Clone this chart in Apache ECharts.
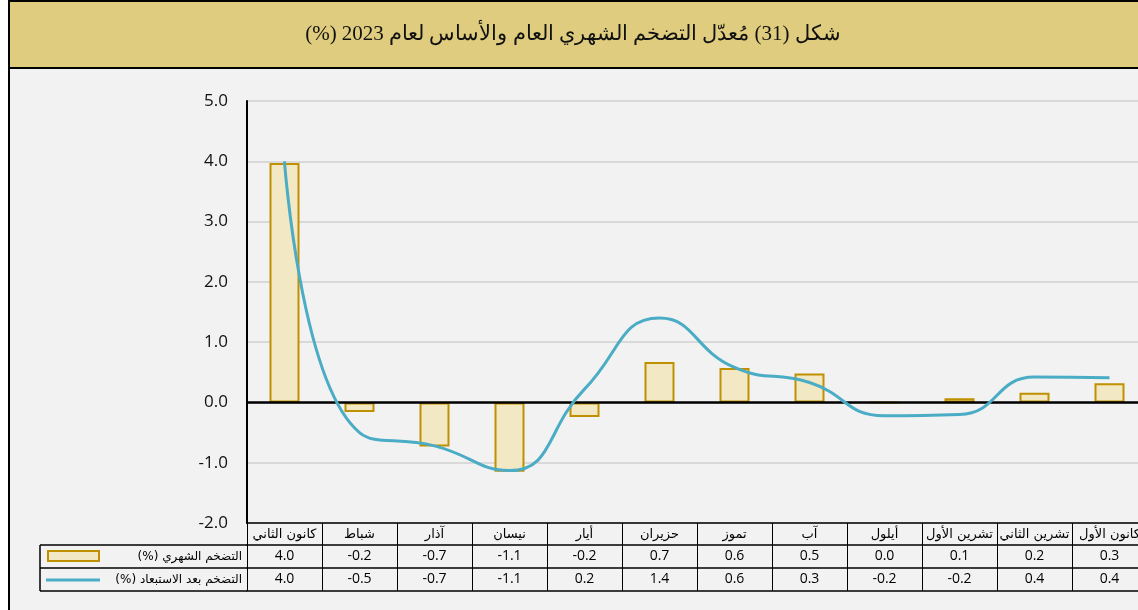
<!DOCTYPE html>
<html>
<head>
<meta charset="utf-8">
<script src="https://cdn.jsdelivr.net/npm/echarts@6/dist/echarts.min.js"></script>
<style>
html,body{margin:0;padding:0;background:#ffffff;}
#c{width:1138px;height:610px;}
</style>
</head>
<body>
<div id="c"></div>
<script>
const titleText = 'شكل (31) مُعدّل التضخم الشهري العام والأساس لعام 2023 (%)';
const months = ['كانون الثاني','شباط','آذار','نيسان','أيار','حزيران','تموز','آب','أيلول','تشرين الأول','تشرين الثاني','كانون الأول'];
const barName = 'التضخم الشهري (%)';
const lineName = 'التضخم بعد الاستبعاد (%)';
const monthlyInflation = [3.97, -0.16, -0.73, -1.15, -0.24, 0.67, 0.57, 0.48, 0.0, 0.07, 0.16, 0.32];
const coreInflation = [4.0, -0.5, -0.72, -1.13, 0.22, 1.4, 0.58, 0.33, -0.22, -0.2, 0.42, 0.41];
const yTicks = { min: -2, max: 5, interval: 1 };

const rtl = s => '\u202B' + s + '\u202C';
const BAR_FILL = '#F2E8C4', BAR_EDGE = '#BF9000', LINE_C = '#4BACC6';
const numFont = '"Open Sans", "DejaVu Sans", sans-serif';
const arFont = '"DejaVu Sans", "Noto Sans", sans-serif';

const chart = echarts.init(document.getElementById('c'), null, {renderer: 'canvas'});

function tableAxis(offset, formatter, showLabel) {
  return {
    type: 'category', gridIndex: 0, position: 'bottom', offset: offset,
    data: months, boundaryGap: true,
    axisLine: {show: true, onZero: false, lineStyle: {color: '#000', width: 1.5}},
    axisTick: {show: false},
    axisLabel: {show: showLabel, interval: 0, margin: 4, fontSize: 14, color: '#000',
      fontFamily: numFont, formatter: formatter},
    splitLine: {show: false}
  };
}

const option = {
  animation: false,
  backgroundColor: 'transparent',
  grid: {left: 247, top: 101, width: 900, height: 422, containLabel: false, outerBoundsMode: 'none'},
  graphic: [
    {type: 'rect', z: -10, shape: {x: 9, y: 68, width: 1140, height: 560},
      style: {fill: '#F2F2F2', stroke: '#000', lineWidth: 2}},
    {type: 'rect', z: -9, shape: {x: 9, y: 1, width: 1140, height: 67},
      style: {fill: '#DFCC7E', stroke: '#000', lineWidth: 2}},
    {type: 'text', z: 10, x: 573, y: 34,
      style: {text: rtl(titleText), fill: '#111', font: '21px "Liberation Serif", "DejaVu Serif", serif',
        textAlign: 'center', textVerticalAlign: 'middle'}},
    // legend column cells
    {type: 'line', z: 10, shape: {x1: 40, y1: 545, x2: 247, y2: 545}, style: {stroke: '#000', lineWidth: 1.5}},
    {type: 'line', z: 10, shape: {x1: 40, y1: 568, x2: 247, y2: 568}, style: {stroke: '#000', lineWidth: 1.5}},
    {type: 'line', z: 10, shape: {x1: 40, y1: 591, x2: 247, y2: 591}, style: {stroke: '#000', lineWidth: 1.5}},
    {type: 'line', z: 10, shape: {x1: 40, y1: 545, x2: 40, y2: 591}, style: {stroke: '#000', lineWidth: 1.5}},
    {type: 'rect', z: 10, shape: {x: 48, y: 551, width: 51, height: 10},
      style: {fill: BAR_FILL, stroke: BAR_EDGE, lineWidth: 2}},
    {type: 'text', z: 10, x: 242, y: 557,
      style: {text: rtl(barName), fill: '#000', font: '12px ' + arFont, textAlign: 'right', textVerticalAlign: 'middle'}},
    {type: 'line', z: 10, shape: {x1: 46, y1: 580, x2: 100, y2: 580}, style: {stroke: LINE_C, lineWidth: 3}},
    {type: 'text', z: 10, x: 242, y: 580,
      style: {text: rtl(lineName), fill: '#000', font: '12px ' + arFont, textAlign: 'right', textVerticalAlign: 'middle'}}
  ],
  xAxis: [
    {
      type: 'category', gridIndex: 0, position: 'bottom', data: months, boundaryGap: true,
      axisLine: {show: true, onZero: false, lineStyle: {color: '#000', width: 1.5}},
      axisTick: {show: true, length: 68, interval: 0, lineStyle: {color: '#000', width: 1}},
      axisLabel: {interval: 0, margin: 5, fontSize: 13, color: '#000', fontFamily: arFont},
      splitLine: {show: false}
    },
    tableAxis(22, (v, i) => monthlyInflation[i].toFixed(1), true),
    tableAxis(45, (v, i) => coreInflation[i].toFixed(1), true),
    tableAxis(68, () => '', false)
  ],
  yAxis: {
    type: 'value', min: yTicks.min, max: yTicks.max, interval: yTicks.interval,
    axisLine: {show: true, lineStyle: {color: '#000', width: 2}},
    axisTick: {show: false},
    axisLabel: {margin: 19, fontSize: 17, color: '#111', fontFamily: numFont,
      formatter: v => v.toFixed(1)},
    splitLine: {show: true, lineStyle: {color: '#D9D9D9', width: 2}}
  },
  series: [
    {
      name: barName, type: 'bar', xAxisIndex: 0, data: monthlyInflation, barWidth: 30,
      itemStyle: {color: BAR_FILL, borderColor: BAR_EDGE, borderWidth: 2},
      markLine: {silent: true, symbol: 'none', label: {show: false},
        lineStyle: {color: '#000', width: 2.5, type: 'solid'}, data: [{yAxis: 0}]},
      z: 2
    },
    {
      name: lineName, type: 'line', xAxisIndex: 0, data: coreInflation, smooth: 0.5,
      symbol: 'none', lineStyle: {color: LINE_C, width: 3}, itemStyle: {color: LINE_C}, z: 5
    }
  ]
};
chart.setOption(option);
</script>
</body>
</html>
